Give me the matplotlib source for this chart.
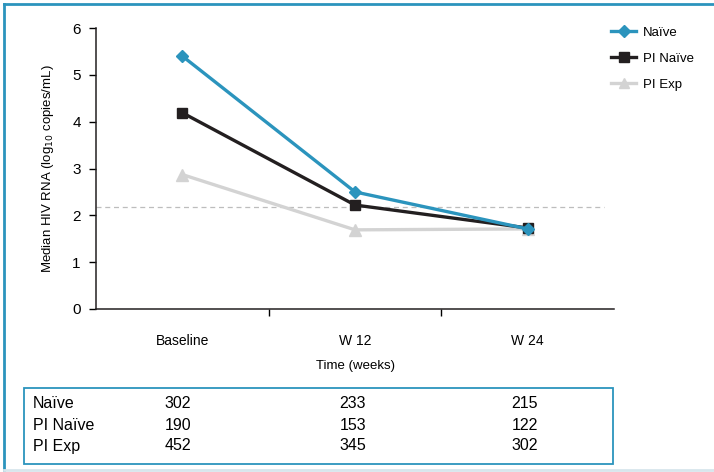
import matplotlib
matplotlib.use("Agg")
import matplotlib.pyplot as plt
from matplotlib.patches import Rectangle
from matplotlib.lines import Line2D

plt.rcParams['font.family'] = ['Liberation Sans', 'DejaVu Sans']

categories = ["Baseline", "W 12", "W 24"]
naive = [5.4, 2.5, 1.71]
pi_naive = [4.19, 2.22, 1.73]
pi_exp = [2.87, 1.69, 1.71]
threshold = 2.18
yticks = [0, 1, 2, 3, 4, 5, 6]

table_rows = ["Naïve", "PI Naïve", "PI Exp"]
table_naive = ["302", "233", "215"]
table_pi_naive = ["190", "153", "122"]
table_pi_exp = ["452", "345", "302"]

TEAL = "#2b94bd"
BLACK = "#231f20"
GRAY = "#d3d3d3"

W, H = 714, 472
fig = plt.figure(figsize=(W / 100, H / 100), dpi=100)

def fx(px):
    return px / W

def fy(py):
    return 1 - py / H

ax = fig.add_axes([fx(96), fy(309), fx(614) - fx(96), fy(28) - fy(309)])
x = list(range(len(categories)))
ax.plot(x, pi_exp, color=GRAY, lw=2.4, marker='^', ms=8, label="PI Exp", zorder=2)
ax.plot(x, pi_naive, color=BLACK, lw=2.4, marker='s', ms=7.5, label="PI Naïve", zorder=3)
ax.plot(x, naive, color=TEAL, lw=2.4, marker='D', ms=6.5, label="Naïve", zorder=4)
ax.axhline(threshold, color="#bdbdbd", lw=0.9, ls=(0, (4, 3)), xmax=0.98, zorder=1)

ax.set_xlim(-0.5, 2.5)
ax.set_ylim(0, 6)
ax.set_yticks(yticks)
ax.set_xticks(x)
ax.set_xticklabels(categories)
ax.set_xticks([0.5, 1.5], minor=True)
ax.tick_params(axis='x', which='major', length=0, pad=18, labelsize=10)
ax.tick_params(axis='x', which='minor', length=5, width=1, direction='out')
ax.tick_params(axis='y', length=5, width=1, labelsize=11, pad=6)
for s in ['top', 'right']:
    ax.spines[s].set_visible(False)
for s in ['left', 'bottom']:
    ax.spines[s].set_linewidth(1.1)
    ax.spines[s].set_color("#231f20")
ax.set_ylabel("Median HIV RNA (log$_{10}$ copies/mL)", fontsize=9.5, labelpad=12)
ax.set_xlabel("Time (weeks)", fontsize=9.5, labelpad=9)

handles = [
    Line2D([], [], color=TEAL, lw=2.4, marker='D', ms=6),
    Line2D([], [], color=BLACK, lw=2.4, marker='s', ms=7),
    Line2D([], [], color=GRAY, lw=2.4, marker='^', ms=7.5),
]
fig.legend(handles, ["Naïve", "PI Naïve", "PI Exp"], loc='upper left',
           bbox_to_anchor=(fx(606), fy(21)), frameon=False, fontsize=9.5,
           handlelength=1.9, labelspacing=1.05, handletextpad=0.5, borderaxespad=0)

# table
fig.patches.append(Rectangle((fx(24), fy(464)), fx(613) - fx(24), fy(388) - fy(464),
                             transform=fig.transFigure, fill=False, edgecolor=TEAL, lw=1.3))
col_x = [178, 353, 525]
row_y = [404, 425, 446]
for r, (name, vals) in enumerate(zip(table_rows, [table_naive, table_pi_naive, table_pi_exp])):
    fig.text(fx(33), fy(row_y[r]), name, fontsize=11.5, va='center', ha='left')
    for c, v in enumerate(vals):
        fig.text(fx(col_x[c]), fy(row_y[r]), v, fontsize=11.5, va='center', ha='center')

# outer frame
fig.add_artist(Line2D([fx(4), fx(4)], [fy(4), fy(470)], transform=fig.transFigure, color=TEAL, lw=2))
fig.add_artist(Line2D([fx(4), 1], [fy(4), fy(4)], transform=fig.transFigure, color=TEAL, lw=2))
fig.add_artist(Line2D([fx(4), 1], [fy(470), fy(470)], transform=fig.transFigure, color="#d7e6ec", lw=2))

fig.savefig("out.png", dpi=100)
